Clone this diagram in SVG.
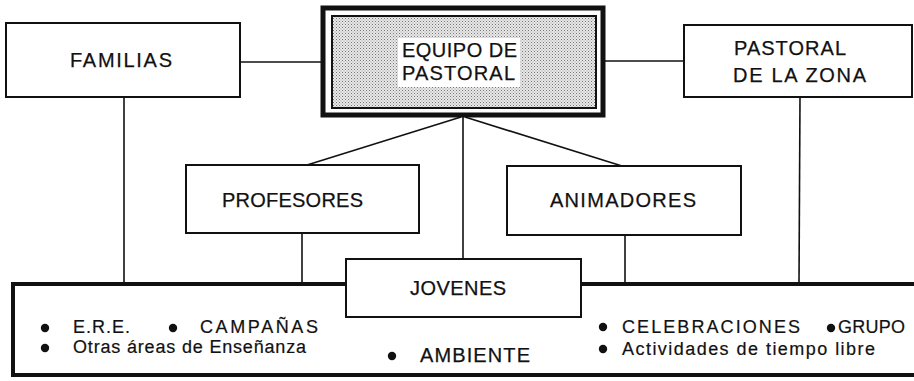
<svg xmlns="http://www.w3.org/2000/svg" width="914" height="381" viewBox="0 0 914 381">
<defs>
<style>
.box{fill:#fff;stroke:#111;stroke-width:2}
.ln{stroke:#111;stroke-width:1.6;fill:none}
.lbl{font-family:"Liberation Sans",Arial,sans-serif;font-size:20px;fill:#111;stroke:#111;stroke-width:0.25}
.sm{font-family:"Liberation Sans",Arial,sans-serif;font-size:18px;fill:#111;stroke:#111;stroke-width:0.2}
.dot{fill:#111}
</style>
<pattern id="shade" width="3" height="3" patternUnits="userSpaceOnUse">
<rect width="3" height="3" fill="#e8e8e8"/>
<rect x="0" y="0" width="1" height="1" fill="#777"/>
<rect x="1.5" y="1.5" width="1" height="1" fill="#999"/>
</pattern>
</defs>
<rect width="914" height="381" fill="#fff"/>
<g id="connectors">
<line class="ln" x1="240" y1="62" x2="323" y2="62"/>
<line class="ln" x1="603" y1="61" x2="685" y2="61"/>
<line class="ln" x1="124" y1="97" x2="124" y2="284"/>
<line class="ln" x1="800" y1="97" x2="799" y2="284"/>
<line class="ln" x1="463" y1="115" x2="463" y2="259"/>
<line class="ln" x1="461" y1="117" x2="307" y2="165"/>
<line class="ln" x1="465" y1="117" x2="622" y2="166"/>
<line class="ln" x1="302" y1="233" x2="302" y2="284"/>
<line class="ln" x1="625" y1="235" x2="625" y2="285"/>
</g>
<g id="familias">
<rect class="box" x="6" y="23" width="234" height="74"/>
<text class="lbl" x="70" y="67" textLength="102" lengthAdjust="spacing">FAMILIAS</text>
</g>
<g id="equipo">
<rect x="323" y="8" width="280" height="107" fill="#fff" stroke="#111" stroke-width="5"/>
<rect x="332" y="16" width="264" height="92" fill="url(#shade)" stroke="#111" stroke-width="2"/>
<rect x="398" y="38" width="122" height="49" fill="#fff"/>
<text class="lbl" x="402" y="57" textLength="115" lengthAdjust="spacing">EQUIPO DE</text>
<text class="lbl" x="402" y="80" textLength="113" lengthAdjust="spacing">PASTORAL</text>
</g>
<g id="pastoral-zona">
<rect class="box" x="684" y="25" width="228" height="72"/>
<text class="lbl" x="734" y="55" textLength="112" lengthAdjust="spacing">PASTORAL</text>
<text class="lbl" x="733" y="82" textLength="133" lengthAdjust="spacing">DE LA ZONA</text>
</g>
<g id="profesores">
<rect class="box" x="186" y="165" width="233" height="68"/>
<text class="lbl" x="222" y="207" textLength="141" lengthAdjust="spacing">PROFESORES</text>
</g>
<g id="animadores">
<rect class="box" x="507" y="166" width="234" height="69"/>
<text class="lbl" x="550" y="207" textLength="146" lengthAdjust="spacing">ANIMADORES</text>
</g>
<g id="actividades">
<path d="M918,284 H13 V375 H918" fill="none" stroke="#111" stroke-width="4"/>
<circle class="dot" cx="45" cy="328" r="4.2"/>
<text class="sm" x="73" y="333" textLength="57" lengthAdjust="spacing">E.R.E.</text>
<circle class="dot" cx="173" cy="328" r="4.2"/>
<text class="sm" x="200" y="333" textLength="118" lengthAdjust="spacing">CAMPAÑAS</text>
<circle class="dot" cx="45" cy="348" r="4.2"/>
<text class="sm" x="73" y="353" textLength="233" lengthAdjust="spacing">Otras áreas de Enseñanza</text>
<circle class="dot" cx="392" cy="356" r="4.2"/>
<text class="lbl" x="420" y="362" textLength="110" lengthAdjust="spacing">AMBIENTE</text>
<circle class="dot" cx="603" cy="327" r="4.2"/>
<text class="sm" x="622" y="333" textLength="178" lengthAdjust="spacing">CELEBRACIONES</text>
<circle class="dot" cx="831" cy="328" r="4.2"/>
<text class="sm" x="838" y="333" textLength="67" lengthAdjust="spacing">GRUPO</text>
<circle class="dot" cx="603" cy="349" r="4.2"/>
<text class="sm" x="622" y="355" textLength="253" lengthAdjust="spacing">Actividades de tiempo libre</text>
</g>
<g id="jovenes">
<rect class="box" x="346" y="259" width="235" height="58"/>
<text class="lbl" x="410" y="295" textLength="96" lengthAdjust="spacing">JOVENES</text>
</g>
</svg>
